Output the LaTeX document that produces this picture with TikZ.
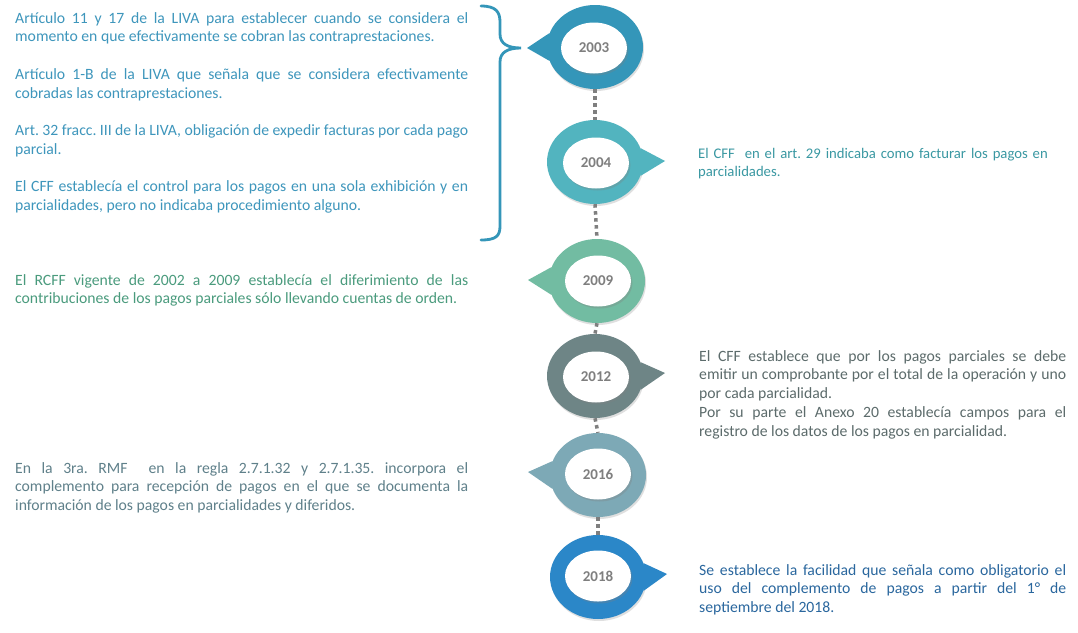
\documentclass[tikz,border=0pt]{standalone}
\usepackage{fontspec}
\setmainfont{Carlito}
\usetikzlibrary{shapes.geometric,shadows}
\definecolor{cA}{HTML}{3496B9}
\definecolor{tA}{HTML}{3E96BC}
\definecolor{cB}{HTML}{52B4BF}
\definecolor{tB}{HTML}{3A98A2}
\definecolor{cC}{HTML}{72BCA2}
\definecolor{tC}{HTML}{4A9B7D}
\definecolor{cD}{HTML}{6E8586}
\definecolor{tD}{HTML}{5C6B6B}
\definecolor{cE}{HTML}{7DA9B6}
\definecolor{tE}{HTML}{5F808A}
\definecolor{cF}{HTML}{2B87C8}
\definecolor{tF}{HTML}{2A679E}
\definecolor{yeargray}{HTML}{7F7F7F}
\definecolor{dotgray}{HTML}{7F7F7F}
\newcommand\myparsetup{\parindent=0pt\relax\parskip=0pt\relax\tolerance=10000\relax\hyphenpenalty=10000\relax\frenchspacing}
\newcommand\mybodyfont{\fontsize{15.7}{18.7}\selectfont}
\newcommand\mysmallfont{\fontsize{14.7}{18}\selectfont}
\tikzset{
  outerring/.style={ellipse, minimum width=96pt, minimum height=84pt, inner sep=0pt, fill=#1,
    drop shadow={opacity=0.25, shadow xshift=1pt, shadow yshift=-2pt}},
  innerdisc/.style={ellipse, minimum width=66pt, minimum height=51pt, inner sep=0pt, fill=white,
    text=yeargray, font=\fontsize{15}{18}\selectfont\bfseries,
    drop shadow={opacity=0.3, shadow xshift=1.5pt, shadow yshift=-2pt}},
  bodytext/.style={anchor=north west, inner sep=0pt, text width=#1, align=justify,
    font=\mybodyfont},
  lefttext/.style={anchor=north west, inner sep=0pt, text width=#1, align=left,
    font=\mysmallfont},
  dotline/.style={draw=dotgray, line width=3.5pt, dash pattern=on 3.5pt off 3.5pt},
  bracestyle/.style={draw=cA, line width=2.8pt, line cap=round}
}
\begin{document}
\begin{tikzpicture}[x=1pt,y=-1pt]
\useasboundingbox (0,0) rectangle (1078,632);
\fill[white] (0,0) rectangle (1078,632);

% outer rings and pointers
\coordinate (pA) at (527,48);
\coordinate (pB) at (665,161);
\coordinate (pC) at (528,280);
\coordinate (pD) at (665,373);
\coordinate (pE) at (528,472);
\coordinate (pF) at (667,574);

\node[outerring=cA] (oA) at (595,47) {};
\node[outerring=cB] (oB) at (595,162) {};
\node[outerring=cC] (oC) at (597,281) {};
\node[outerring=cD] (oD) at (595,376) {};
\node[outerring=cE] (oE) at (598,475) {};
\node[outerring=cF] (oF) at (598,577) {};

\fill[cA] (oA.163) -- (pA) -- (oA.197) -- cycle;
\fill[cB] (oB.17) -- (pB) -- (oB.-17) -- cycle;
\fill[cC] (oC.163) -- (pC) -- (oC.197) -- cycle;
\fill[cD] (oD.17) -- (pD) -- (oD.-17) -- cycle;
\fill[cE] (oE.163) -- (pE) -- (oE.197) -- cycle;
\fill[cF] (oF.17) -- (pF) -- (oF.-17) -- cycle;

% dotted connectors
\draw[dotline] (oA.south) -- (oB.north);
\draw[dotline] (oB.south) -- (oC.north);
\draw[dotline] (oC.south) -- (oD.north);
\draw[dotline] (oD.south) -- (oE.north);
\draw[dotline] (oE.south) -- (oF.north);

% inner discs with years
\node[innerdisc] (yA) at (594,48) {2003};
\node[innerdisc] (yB) at (596,163) {2004};
\node[innerdisc] (yC) at (598,281) {2009};
\node[innerdisc] (yD) at (596,377) {2012};
\node[innerdisc] (yE) at (598,474) {2016};
\node[innerdisc] (yF) at (598,576) {2018};

% brace
\coordinate (braceTip) at (521,48);
\draw[bracestyle] (481,6) .. controls (496,6) and (500,12) .. (500,22) -- (500,34)
  .. controls (500,44) and (508,48) .. (braceTip)
  .. controls (508,48) and (500,52) .. (500,62) -- (500,226)
  .. controls (500,236) and (496,240) .. (481,240);

% texts
\node[bodytext=453pt, text=tA] (tA) at (15,10) {\myparsetup
\strut Artículo 11 y 17 de la LIVA para establecer cuando se considera el\linebreak
momento en que efectivamente se cobran las contraprestaciones.\par\vspace{18.7pt}
Artículo 1-B de la LIVA que señala que se considera efectivamente\linebreak
cobradas las contraprestaciones.\par\vspace{18.7pt}
Art. 32 fracc. III de la LIVA, obligación de expedir facturas por cada pago\linebreak
parcial.\par\vspace{18.7pt}
El CFF establecía el control para los pagos en una sola exhibición y en\linebreak
parcialidades, pero no indicaba procedimiento alguno.};

\node[lefttext=375pt, text=tB] (tB) at (698,146) {\myparsetup
\strut El CFF\ \ en el art. 29 indicaba como facturar los pagos en\\
parcialidades.};

\node[bodytext=453pt, text=tC] (tC) at (15,272) {\myparsetup
\strut El RCFF vigente de 2002 a 2009 establecía el diferimiento de las\linebreak
contribuciones de los pagos parciales sólo llevando cuentas de orden.};

\node[bodytext=367pt, text=tD] (tD) at (699,348) {\myparsetup
\strut El CFF establece que por los pagos parciales se debe\linebreak
emitir un comprobante por el total de la operación y uno\linebreak
por cada parcialidad.\par
Por su parte el Anexo 20 establecía campos para el\linebreak
registro de los datos de los pagos en parcialidad.};

\node[bodytext=453pt, text=tE] (tE) at (15,460) {\myparsetup
\strut En la 3ra. RMF\ \ en la regla 2.7.1.32 y 2.7.1.35. incorpora el\linebreak
complemento para recepción de pagos en el que se documenta la\linebreak
información de los pagos en parcialidades y diferidos.};

\node[bodytext=367pt, text=tF] (tF) at (699,562) {\myparsetup
\strut Se establece la facilidad que señala como obligatorio el\linebreak
uso del complemento de pagos a partir del 1° de\linebreak
septiembre del 2018.};
\end{tikzpicture}
\end{document}
